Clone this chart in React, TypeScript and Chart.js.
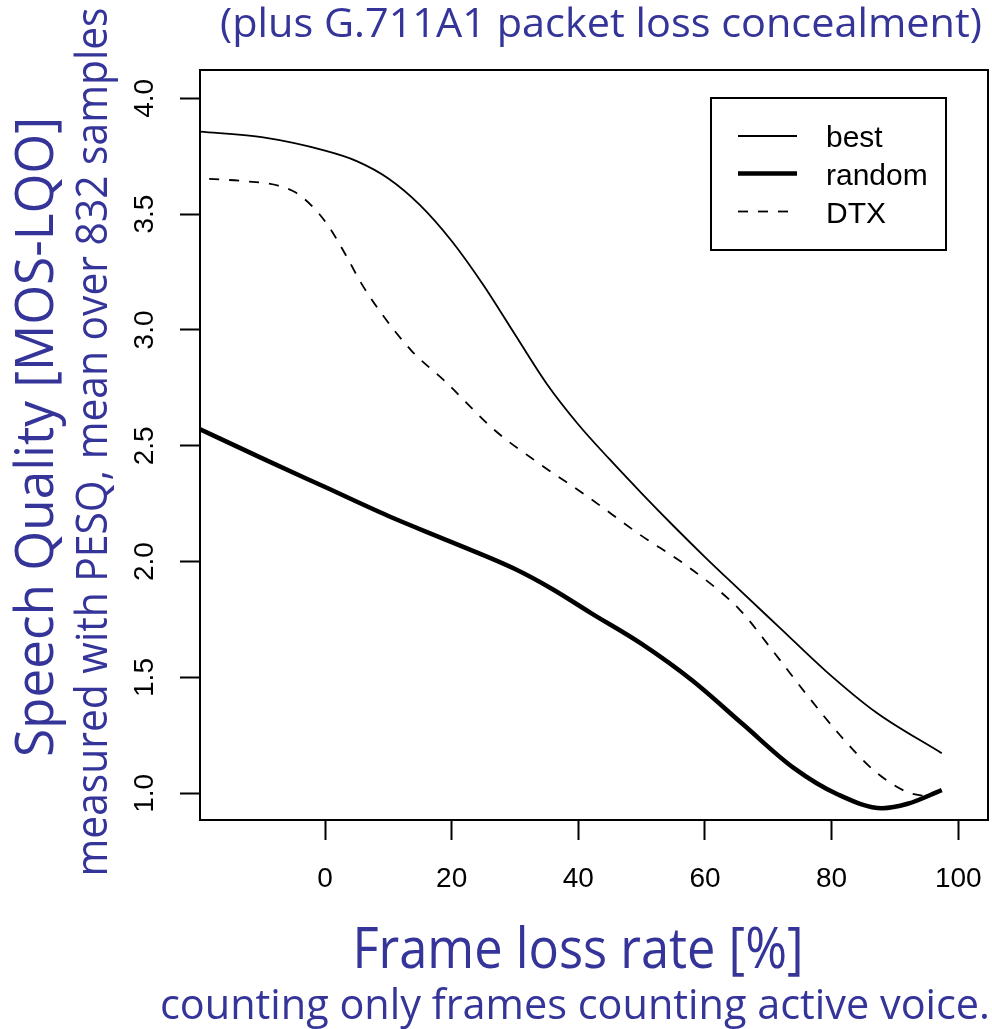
import React, { useEffect, useRef } from "react";
import { Chart, registerables } from "chart.js";

Chart.register(...registerables);

// ---- data ----
const bestX = [-20, -10, 0, 5, 10, 15, 20, 25, 30, 35, 40, 45, 50, 55, 60, 65, 72, 79, 87, 97.4];
const bestY = [3.857, 3.832, 3.774, 3.729, 3.654, 3.539, 3.384, 3.194, 2.98, 2.768, 2.592, 2.44, 2.295, 2.155, 2.02, 1.89, 1.71, 1.53, 1.35, 1.173];

const randomX = [-20, -10, 0, 10, 20, 30, 36, 42, 50, 58, 66, 74, 81, 88, 92, 97.4];
const randomY = [2.575, 2.447, 2.322, 2.197, 2.084, 1.968, 1.88, 1.778, 1.645, 1.487, 1.298, 1.11, 0.995, 0.936, 0.955, 1.014];

const dtxX = [-18.3, -12.6, -7.4, -4.7, -2.1, 0.5, 3.2, 5.8, 9, 13.7, 18.9, 26.8, 34, 41.5, 49.7, 57.6, 65.5, 70.8, 76.1, 81.3, 86.6, 91.8, 95.5];
const dtxY = [3.652, 3.642, 3.623, 3.594, 3.536, 3.45, 3.327, 3.198, 3.068, 2.909, 2.78, 2.567, 2.42, 2.28, 2.117, 1.973, 1.792, 1.612, 1.425, 1.252, 1.101, 1.007, 0.985];

const seriesLabels = ["best", "random", "DTX"];
const xTickValues = [0, 20, 40, 60, 80, 100];
const yTickValues = [1.0, 1.5, 2.0, 2.5, 3.0, 3.5, 4.0];

const titleText = "(plus G.711A1 packet loss concealment)";
const yTitleMain = "Speech Quality [MOS-LQO]";
const yTitleSub = "measured with PESQ, mean over 832 samples";
const xTitleMain = "Frame loss rate [%]";
const xTitleSub = "counting only frames counting active voice.";

const BLUE = "#343499";
const TEXT_FONT = "'Liberation Sans', Arial, sans-serif";
const BLUE_FONT = "'Open Sans', 'Liberation Sans', sans-serif";

function toPoints(xs: number[], ys: number[]) {
  return xs.map((x, i) => ({ x, y: ys[i] }));
}

function drawFitted(
  ctx: CanvasRenderingContext2D,
  text: string,
  cx: number,
  cy: number,
  width: number,
  size: number,
  rotate: boolean
) {
  ctx.save();
  ctx.font = `${size}px ${BLUE_FONT}`;
  ctx.fillStyle = BLUE;
  ctx.textAlign = "center";
  ctx.textBaseline = "alphabetic";
  const w = ctx.measureText(text).width;
  ctx.translate(cx, cy);
  if (rotate) ctx.rotate(-Math.PI / 2);
  ctx.scale(width / w, 1);
  ctx.fillText(text, 0, 0);
  ctx.restore();
}

const textPlugin = {
  id: "blueTexts",
  afterDraw(chart: any) {
    const ctx = chart.ctx as CanvasRenderingContext2D;
    drawFitted(ctx, titleText, 601, 37, 762, 41, false);
    drawFitted(ctx, yTitleMain, 53, 437, 640, 53, true);
    drawFitted(ctx, yTitleSub, 107, 442, 869, 43, true);
    drawFitted(ctx, xTitleMain, 578, 968, 451, 56, false);
    drawFitted(ctx, xTitleSub, 575, 1019, 830, 42, false);
  },
};

const boxPlugin = {
  id: "plotBox",
  afterDatasetsDraw(chart: any) {
    const { ctx, chartArea } = chart;
    ctx.save();
    ctx.strokeStyle = "#000";
    ctx.lineWidth = 2;
    ctx.strokeRect(chartArea.left, chartArea.top, chartArea.right - chartArea.left, chartArea.bottom - chartArea.top);
    ctx.restore();
  },
};

const legendPlugin = {
  id: "rLegend",
  afterDatasetsDraw(chart: any) {
    const ctx = chart.ctx as CanvasRenderingContext2D;
    const boxL = 711, boxT = 98, boxR = 946, boxB = 250;
    ctx.save();
    ctx.fillStyle = "#fff";
    ctx.fillRect(boxL, boxT, boxR - boxL, boxB - boxT);
    ctx.strokeStyle = "#000";
    ctx.lineWidth = 2;
    ctx.strokeRect(boxL, boxT, boxR - boxL, boxB - boxT);
    const rows = [136, 173.5, 211.5];
    chart.data.datasets.forEach((ds: any, i: number) => {
      const y = rows[i];
      ctx.beginPath();
      ctx.strokeStyle = ds.borderColor;
      ctx.lineWidth = ds.borderWidth;
      ctx.setLineDash(ds.borderDash || []);
      ctx.moveTo(738, y);
      ctx.lineTo(797, y);
      ctx.stroke();
      ctx.setLineDash([]);
      ctx.fillStyle = "#000";
      ctx.font = `30px ${TEXT_FONT}`;
      ctx.textAlign = "left";
      ctx.textBaseline = "alphabetic";
      ctx.fillText(ds.label, 826, y + 11);
    });
    ctx.restore();
  },
};

export default function App() {
  const ref = useRef<HTMLCanvasElement | null>(null);

  useEffect(() => {
    document.body.style.margin = "0";
    document.body.style.overflow = "hidden";
    const canvas = ref.current;
    if (!canvas) return;
    const lineBase = {
      borderColor: "#000",
      pointRadius: 0,
      cubicInterpolationMode: "monotone" as const,
      clip: 0,
      fill: false,
    };
    const chart = new Chart(canvas, {
      type: "line",
      data: {
        datasets: [
          { ...lineBase, label: seriesLabels[0], data: toPoints(bestX, bestY), borderWidth: 1.8 },
          { ...lineBase, label: seriesLabels[1], data: toPoints(randomX, randomY), borderWidth: 4.5 },
          { ...lineBase, label: seriesLabels[2], data: toPoints(dtxX, dtxY), borderWidth: 1.8, borderDash: [10, 10] },
        ],
      },
      options: {
        animation: false,
        responsive: false,
        devicePixelRatio: 1,
        events: [],
        layout: { padding: { left: 0, right: 4, top: 70, bottom: 0 } },
        plugins: {
          legend: { display: false },
          tooltip: { enabled: false },
          title: { display: false },
        },
        scales: {
          x: {
            type: "linear",
            position: "bottom",
            min: -19.75,
            max: 104.7,
            afterBuildTicks: (s: any) => {
              s.ticks = xTickValues.map((v) => ({ value: v }));
            },
            afterFit: (s: any) => {
              s.height = 209;
              s.paddingLeft = 0;
              s.paddingRight = 0;
            },
            ticks: {
              color: "#000",
              font: { family: TEXT_FONT, size: 28 },
              padding: 22,
              maxRotation: 0,
              minRotation: 0,
              autoSkip: false,
              callback: (v: any) => String(v),
            },
            grid: {
              display: true,
              drawOnChartArea: false,
              drawTicks: true,
              tickLength: 20,
              tickWidth: 2,
              tickColor: "#000",
            },
            border: { display: false },
          },
          y: {
            type: "linear",
            position: "left",
            min: 0.885,
            max: 4.122,
            afterBuildTicks: (s: any) => {
              s.ticks = yTickValues.map((v) => ({ value: v }));
            },
            afterFit: (s: any) => {
              s.width = 200;
              s.paddingTop = 0;
              s.paddingBottom = 0;
            },
            ticks: {
              color: "#000",
              font: { family: TEXT_FONT, size: 28 },
              padding: 15,
              minRotation: 90,
              maxRotation: 90,
              crossAlign: "center",
              autoSkip: false,
              callback: (v: any) => Number(v).toFixed(1),
            },
            grid: {
              display: true,
              drawOnChartArea: false,
              drawTicks: true,
              tickLength: 20,
              tickWidth: 2,
              tickColor: "#000",
            },
            border: { display: false },
          },
        },
      },
      plugins: [boxPlugin, legendPlugin, textPlugin],
    });
    return () => chart.destroy();
  }, []);

  return (
    <canvas
      ref={ref}
      width={992}
      height={1029}
      style={{ display: "block", width: 992, height: 1029, background: "#fff" }}
    />
  );
}
